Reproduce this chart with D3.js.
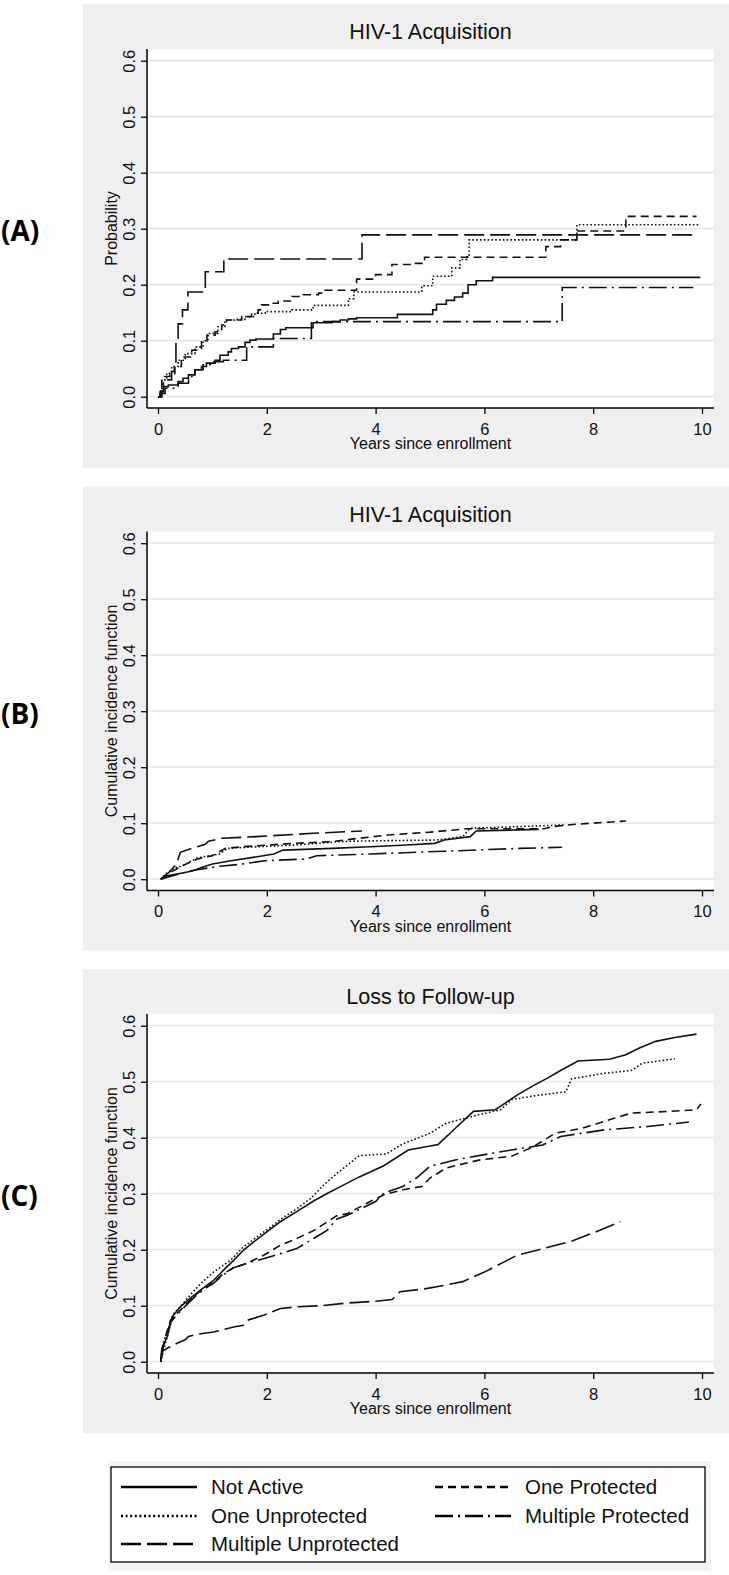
<!DOCTYPE html>
<html>
<head>
<meta charset="utf-8">
<script src="https://cdn.jsdelivr.net/npm/d3@7"></script>
<style>
  body { margin: 0; background: #fff; }
  svg { display: block; font-family: "Liberation Sans", Arial, sans-serif; }
</style>
</head>
<body>
<div id="chart"></div>
<script>
// ---- data: [years since enrollment, value] ----
var groups = ["Not Active", "One Unprotected", "One Protected", "Multiple Protected", "Multiple Unprotected"];
var xTicks = [0, 2, 4, 6, 8, 10];
var yTicks = [0, 0.1, 0.2, 0.3, 0.4, 0.5, 0.6];
var panelLabels = ["(A)", "(B)", "(C)"];
var panelTitles = ["HIV-1 Acquisition", "HIV-1 Acquisition", "Loss to Follow-up"];
var yTitles = ["Probability", "Cumulative incidence function", "Cumulative incidence function"];

// (A) Kaplan-Meier, HIV-1 acquisition
var kmNotActive = [[0,0],[0.04,0.009],[0.1,0.018],[0.19,0.021],[0.37,0.027],[0.46,0.033],[0.56,0.039],[0.68,0.048],[0.8,0.054],[0.89,0.06],[1.05,0.065],[1.14,0.074],[1.29,0.08],[1.35,0.086],[1.48,0.089],[1.6,0.097],[1.69,0.101],[1.8,0.103],[2.12,0.112],[2.25,0.12],[2.35,0.123],[2.85,0.132],[3.2,0.134],[3.35,0.137],[3.5,0.139],[3.65,0.141],[4.4,0.147],[5.05,0.155],[5.12,0.165],[5.3,0.172],[5.45,0.178],[5.6,0.185],[5.7,0.2],[5.85,0.207],[6.15,0.213],[9.97,0.213]];
var kmOneUnprot = [[0,0],[0.07,0.03],[0.16,0.042],[0.25,0.054],[0.37,0.065],[0.5,0.077],[0.68,0.089],[0.83,0.1],[0.92,0.113],[1.1,0.125],[1.23,0.137],[1.41,0.138],[1.6,0.143],[1.78,0.149],[1.97,0.152],[2.46,0.155],[2.85,0.163],[3.5,0.175],[3.6,0.187],[4.85,0.198],[5.05,0.215],[5.4,0.23],[5.55,0.245],[5.68,0.25],[5.72,0.28],[7.7,0.307],[9.97,0.307]];
var kmOneProt = [[0,0],[0.07,0.036],[0.22,0.039],[0.31,0.054],[0.43,0.071],[0.62,0.083],[0.8,0.098],[0.9,0.11],[1.05,0.116],[1.17,0.128],[1.26,0.137],[1.54,0.143],[1.72,0.149],[1.84,0.155],[1.9,0.164],[2.09,0.167],[2.21,0.171],[2.46,0.179],[2.67,0.182],[2.95,0.185],[3.07,0.19],[3.65,0.21],[4.0,0.218],[4.3,0.236],[4.7,0.238],[4.9,0.249],[7.13,0.268],[7.4,0.28],[7.7,0.296],[8.6,0.322],[9.9,0.322]];
var kmMultProt = [[0,0],[0.04,0.006],[0.13,0.015],[0.37,0.024],[0.56,0.036],[0.68,0.048],[0.83,0.057],[0.99,0.0625],[1.2,0.065],[1.63,0.089],[2.12,0.104],[2.82,0.134],[7.43,0.195],[9.84,0.195]];
var kmMultUnprot = [[0,0],[0.05,0.01],[0.1,0.03],[0.25,0.045],[0.3,0.06],[0.33,0.1],[0.37,0.13],[0.45,0.155],[0.55,0.187],[0.87,0.223],[1.21,0.246],[3.75,0.289],[9.84,0.289]];

// (B) cumulative incidence, HIV-1 acquisition
var cifHivNotActive = [[0.05,0],[0.17,0.006],[0.45,0.011],[0.65,0.015],[0.8,0.021],[1.0,0.027],[1.34,0.033],[1.75,0.039],[2.13,0.045],[2.3,0.052],[3.2,0.055],[3.9,0.058],[4.57,0.061],[5.09,0.064],[5.26,0.07],[5.74,0.076],[5.85,0.086],[6.64,0.088],[7.0,0.089]];
var cifHivOneUnprot = [[0.05,0],[0.15,0.01],[0.3,0.02],[0.45,0.024],[0.72,0.038],[1.13,0.045],[1.27,0.055],[1.82,0.058],[2.5,0.061],[3.34,0.067],[3.6,0.068],[5.12,0.07],[5.6,0.076],[5.74,0.091],[6.64,0.094],[7.5,0.097]];
var cifHivOneProt = [[0.05,0],[0.17,0.009],[0.45,0.024],[0.72,0.036],[1.0,0.042],[1.24,0.055],[1.55,0.058],[2.03,0.061],[2.5,0.064],[3.2,0.067],[3.6,0.072],[4.23,0.079],[5.0,0.084],[5.67,0.09],[7.1,0.09],[7.26,0.094],[7.67,0.098],[8.6,0.104]];
var cifHivMultProt = [[0.05,0],[0.3,0.007],[0.65,0.016],[1.13,0.023],[1.55,0.027],[1.96,0.033],[2.72,0.036],[2.92,0.042],[3.9,0.045],[5.26,0.05],[6.64,0.055],[7.43,0.057]];
var cifHivMultUnprot = [[0.05,0],[0.2,0.012],[0.34,0.027],[0.41,0.048],[0.62,0.055],[0.86,0.062],[0.93,0.068],[1.17,0.073],[1.8,0.076],[2.85,0.082],[3.75,0.086]];

// (C) cumulative incidence, loss to follow-up
var cifLtfNotActive = [[0.05,0],[0.07,0.024],[0.17,0.045],[0.26,0.08],[0.41,0.098],[0.59,0.113],[0.78,0.128],[1.02,0.145],[1.2,0.163],[1.39,0.181],[1.57,0.199],[1.76,0.214],[2.0,0.232],[2.25,0.25],[2.55,0.268],[2.86,0.287],[3.1,0.3],[3.3,0.31],[3.7,0.33],[4.15,0.35],[4.6,0.378],[5.15,0.388],[5.5,0.42],[5.8,0.447],[6.2,0.45],[6.6,0.476],[6.9,0.493],[7.15,0.506],[7.4,0.52],[7.72,0.537],[8.3,0.54],[8.6,0.548],[8.85,0.56],[9.15,0.572],[9.5,0.579],[9.9,0.585]];
var cifLtfOneUnprot = [[0.05,0],[0.17,0.045],[0.29,0.086],[0.41,0.098],[0.59,0.119],[0.78,0.139],[1.02,0.16],[1.33,0.181],[1.57,0.205],[1.82,0.223],[2.06,0.24],[2.31,0.258],[2.55,0.273],[2.8,0.291],[3.04,0.315],[3.3,0.337],[3.7,0.368],[4.2,0.371],[4.5,0.389],[5.0,0.408],[5.3,0.426],[5.9,0.441],[6.3,0.45],[6.5,0.468],[7.0,0.476],[7.5,0.482],[7.6,0.505],[8.2,0.515],[8.7,0.52],[8.9,0.533],[9.5,0.541]];
var cifLtfOneProt = [[0.05,0],[0.12,0.04],[0.23,0.074],[0.35,0.086],[0.53,0.104],[0.72,0.122],[0.9,0.134],[1.02,0.142],[1.2,0.157],[1.39,0.168],[1.64,0.176],[1.94,0.19],[2.25,0.208],[2.55,0.22],[2.86,0.234],[3.1,0.249],[3.29,0.261],[3.47,0.264],[3.9,0.286],[4.15,0.298],[4.5,0.307],[4.85,0.313],[5.0,0.328],[5.3,0.346],[5.9,0.36],[6.5,0.367],[6.9,0.384],[7.3,0.408],[7.8,0.417],[8.4,0.435],[8.7,0.444],[9.4,0.447],[9.9,0.45],[9.98,0.46]];
var cifLtfMultProt = [[0.05,0],[0.12,0.04],[0.23,0.07],[0.35,0.084],[0.53,0.102],[0.72,0.12],[0.9,0.133],[1.02,0.14],[1.2,0.155],[1.39,0.168],[1.64,0.176],[1.94,0.184],[2.25,0.193],[2.55,0.202],[2.86,0.22],[3.1,0.234],[3.29,0.255],[3.47,0.261],[4.0,0.286],[4.15,0.301],[4.5,0.313],[4.75,0.328],[5.0,0.349],[5.5,0.361],[6.3,0.375],[7.07,0.387],[7.4,0.402],[8.2,0.414],[9.0,0.42],[9.76,0.428]];
var cifLtfMultUnprot = [[0.05,0],[0.07,0.018],[0.17,0.024],[0.35,0.033],[0.5,0.039],[0.56,0.045],[0.72,0.049],[1.02,0.053],[1.39,0.062],[1.57,0.065],[1.64,0.074],[1.94,0.083],[2.25,0.095],[2.55,0.098],[3.0,0.1],[3.5,0.105],[4.0,0.108],[4.3,0.111],[4.45,0.125],[4.9,0.13],[5.3,0.137],[5.6,0.143],[6.0,0.16],[6.4,0.18],[6.6,0.19],[7.0,0.2],[7.6,0.215],[8.0,0.23],[8.5,0.25]];

var panelSeries = [
  [kmNotActive, kmOneUnprot, kmOneProt, kmMultProt, kmMultUnprot],
  [cifHivNotActive, cifHivOneUnprot, cifHivOneProt, cifHivMultProt, cifHivMultUnprot],
  [cifLtfNotActive, cifLtfOneUnprot, cifLtfOneProt, cifLtfMultProt, cifLtfMultUnprot]
];

// ---- layout ----
var svgWidth = 729;
var svgHeight = 1575;
var panelTop = [4, 486.5, 969];
var panelCurve = [d3.curveStepAfter, d3.curveLinear, d3.curveLinear];

// line pattern per group (Stata-like)
var dashes = ["none", "1.6,2.2", "8,5", "18,5,2,5", "20,6"];

var svg = d3.select("#chart")
  .append("svg")
  .attr("width", svgWidth)
  .attr("height", svgHeight);

var xScale = d3.scaleLinear()
  .domain([0, 10])
  .range([158, 702]);

panelTop.forEach(function(top, p) {
  var g = svg.append("g").attr("class", "panel");

  // grey graph region
  g.append("rect")
    .attr("x", 83).attr("y", top)
    .attr("width", svgWidth - 83).attr("height", 464)
    .attr("fill", "#efefef");

  // white plot region
  var plotTop = top + 45, plotBottom = top + 404;
  g.append("rect")
    .attr("x", 147).attr("y", plotTop)
    .attr("width", 714 - 147).attr("height", plotBottom - plotTop)
    .attr("fill", "#fff");

  var yScale = d3.scaleLinear()
    .domain([0, 0.6])
    .range([top + 392.7, top + 56.7]);

  // grid lines
  g.append("g").selectAll("line")
    .data(yTicks)
    .enter()
    .append("line")
    .attr("x1", 147).attr("x2", 714)
    .attr("y1", d => yScale(d)).attr("y2", d => yScale(d))
    .attr("stroke", "#e8e8e8")
    .attr("stroke-width", 1.8);

  // axes
  var xAxis = g.append("g")
    .attr("transform", `translate(0, ${plotBottom})`)
    .call(d3.axisBottom(xScale).tickValues(xTicks).tickSize(6).tickPadding(9));
  xAxis.select(".domain").remove();
  xAxis.append("line")
    .attr("x1", 147).attr("x2", 714)
    .attr("stroke", "#000").attr("stroke-width", 1.5);
  xAxis.selectAll("text").attr("font-size", 16.5).attr("fill", "#111");

  var yAxis = g.append("g")
    .attr("transform", "translate(147, 0)")
    .call(d3.axisLeft(yScale).tickValues(yTicks).tickSize(6).tickFormat(d3.format(".1f")));
  yAxis.select(".domain").remove();
  yAxis.append("line")
    .attr("y1", plotTop).attr("y2", plotBottom)
    .attr("stroke", "#000").attr("stroke-width", 1.5);
  yAxis.selectAll(".tick text")
    .attr("transform", "rotate(-90)")
    .attr("x", 0).attr("y", -12).attr("dy", 0)
    .attr("text-anchor", "middle")
    .attr("font-size", 16.5).attr("fill", "#111");
  g.selectAll(".tick line").attr("stroke", "#000").attr("stroke-width", 1.3);

  // titles
  g.append("text")
    .attr("x", 430.5).attr("y", top + 35)
    .attr("text-anchor", "middle")
    .attr("font-size", 21.5)
    .attr("fill", "#111")
    .text(panelTitles[p]);

  g.append("text")
    .attr("x", 430.5).attr("y", plotBottom + 41)
    .attr("text-anchor", "middle")
    .attr("font-size", 16)
    .attr("fill", "#111")
    .text("Years since enrollment");

  g.append("text")
    .attr("transform", `translate(117, ${(plotTop + plotBottom) / 2}) rotate(-90)`)
    .attr("text-anchor", "middle")
    .attr("font-size", 16)
    .attr("fill", "#111")
    .text(yTitles[p]);

  // panel letter
  svg.append("text")
    .attr("x", 1).attr("y", top + 237)
    .attr("font-family", "'Open Sans', 'Liberation Sans', sans-serif")
    .attr("font-size", 28)
    .attr("font-weight", "bold")
    .text(panelLabels[p]);

  // curves
  var line = d3.line()
    .x(d => xScale(d[0]))
    .y(d => yScale(d[1]))
    .curve(panelCurve[p]);

  g.append("g").selectAll("path")
    .data(panelSeries[p])
    .enter()
    .append("path")
    .attr("d", line)
    .attr("fill", "none")
    .attr("stroke", "#111")
    .attr("stroke-width", 1.6)
    .attr("stroke-dasharray", (d, i) => dashes[i]);
});

// ---- legend ----
var legend = svg.append("g").attr("class", "legend");
legend.append("rect")
  .attr("x", 108).attr("y", 1461)
  .attr("width", 603).attr("height", 110)
  .attr("fill", "#f3f3f3");
legend.append("rect")
  .attr("x", 111).attr("y", 1467)
  .attr("width", 594).attr("height", 95)
  .attr("fill", "#fff")
  .attr("stroke", "#000")
  .attr("stroke-width", 1.3);

// legend order: left column rows, then right column
var legendPos = [[0, 0], [0, 1], [1, 0], [1, 1], [0, 2]];
var colKeyX = [121, 435];
var rowY = [1487, 1516, 1544];

var items = legend.selectAll("g.item")
  .data(groups)
  .enter()
  .append("g")
  .attr("class", "item")
  .attr("transform", (d, i) => `translate(${colKeyX[legendPos[i][0]]}, ${rowY[legendPos[i][1]]})`);

items.append("line")
  .attr("x1", 0).attr("x2", 76)
  .attr("stroke", "#000")
  .attr("stroke-width", 2.6)
  .attr("stroke-dasharray", (d, i) => dashes[i] === "1.6,2.2" ? "2,2.6" : dashes[i]);

items.append("text")
  .attr("x", 90).attr("y", 7)
  .attr("font-size", 20.5)
  .attr("fill", "#111")
  .text(d => d);
</script>
</body>
</html>
